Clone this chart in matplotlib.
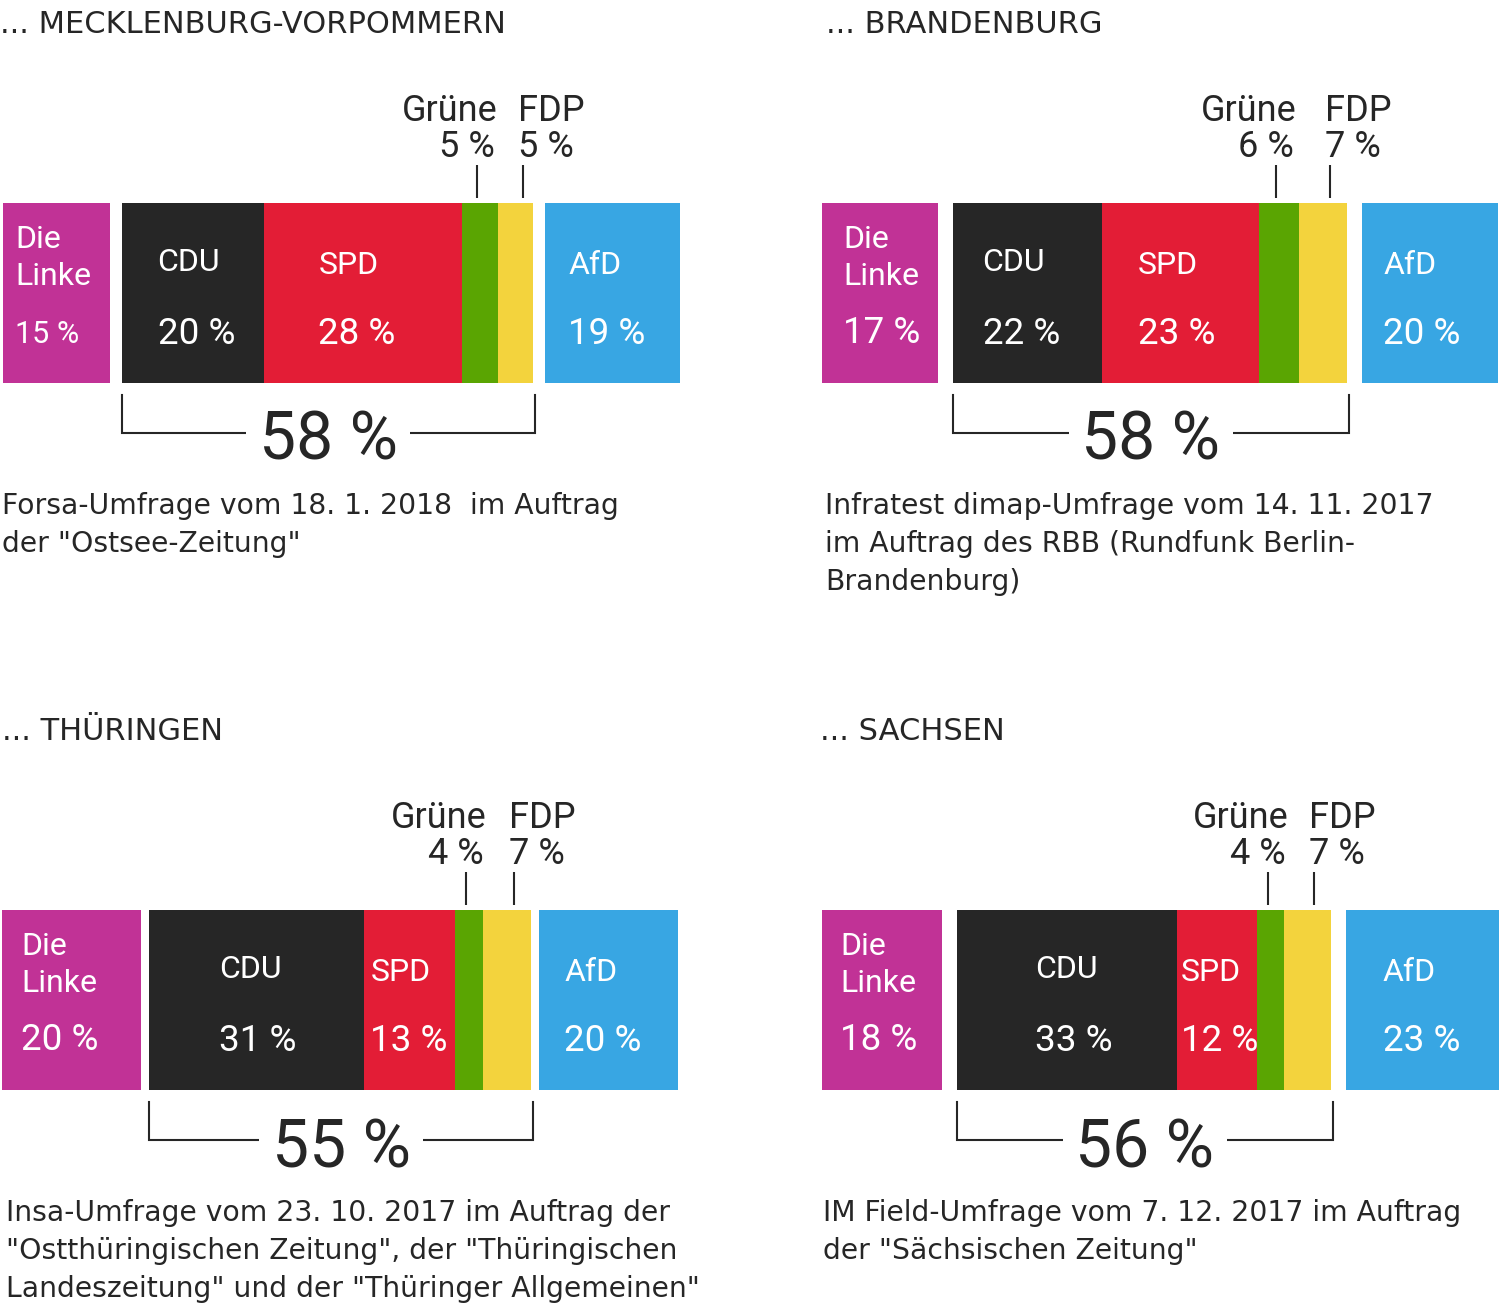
import matplotlib
matplotlib.use("Agg")
import matplotlib.pyplot as plt

plt.rcParams['font.family'] = ['Roboto', 'DejaVu Sans']

# ---------------- data ----------------
states = ["MECKLENBURG-VORPOMMERN", "BRANDENBURG", "THÜRINGEN", "SACHSEN"]
linke = [15, 17, 20, 18]
cdu = [20, 22, 31, 33]
spd = [28, 23, 13, 12]
gruene = [5, 6, 4, 4]
fdp = [5, 7, 7, 7]
afd = [19, 20, 20, 23]
sources = [
    'Forsa-Umfrage vom 18. 1. 2018  im Auftrag\nder "Ostsee-Zeitung"',
    'Infratest dimap-Umfrage vom 14. 11. 2017\nim Auftrag des RBB (Rundfunk Berlin-\nBrandenburg)',
    'Insa-Umfrage vom 23. 10. 2017 im Auftrag der\n"Ostthüringischen Zeitung", der "Thüringischen\nLandeszeitung" und der "Thüringer Allgemeinen"',
    'IM Field-Umfrage vom 7. 12. 2017 im Auftrag\nder "Sächsischen Zeitung"',
]

# ---------------- style / layout (pixels) ----------------
W, H = 1500, 1305
C_LINKE, C_CDU, C_SPD = "#C13296", "#262626", "#E31D36"
C_GRUENE, C_FDP, C_AFD = "#5AA502", "#F3D33D", "#38A6E3"
TXT = "#262626"
NOTE_FONT = ['DejaVu Sans']

panel_x0 = [3, 822, 2, 822]
panel_scale = [7.1, 6.8, 6.95, 6.67]
panel_bar_top = [203, 203, 910, 910]
panel_left = [0, 750, 0, 750]
panel_right = [750, 1500, 750, 1500]
gap_px = [12, 15, 8, 15]
title_x = [0, 826, 2, 820]
note_x = [2, 825, 6, 823]
off_linke = [12, 21, 19, 18]
off_cdu = [36, 30, 70, 78]
off_spd = [55, 36, 6, 4]
off_afd = [23, 21, 25, 37]
linke_pct_size = [22, 26.5, 26.5, 26.5]
BAR_H = 180

fig = plt.figure(figsize=(W / 100, H / 100), dpi=100)

for i in range(4):
    x0 = panel_x0[i]
    s = panel_scale[i]
    bt = panel_bar_top[i]
    L, R = panel_left[i], panel_right[i]
    T = bt - 203
    B = min(T + 650, H)
    ax = fig.add_axes([L / W, 1 - B / H, (R - L) / W, (B - T) / H])
    ax.set_xlim((L - x0) / s, (R - x0) / s)
    ax.set_ylim(B - bt, T - bt)
    ax.axis("off")

    g = gap_px[i] / s
    px = 1.0 / s  # one pixel in data units

    # bar segments
    x_linke = 0
    x_cdu = linke[i] + g
    x_spd = x_cdu + cdu[i]
    x_gr = x_spd + spd[i]
    x_fdp = x_gr + gruene[i]
    x_end = x_fdp + fdp[i]
    x_afd = x_end + g
    starts = [x_linke, x_cdu, x_spd, x_gr, x_fdp, x_afd]
    vals = [linke[i], cdu[i], spd[i], gruene[i], fdp[i], afd[i]]
    cols = [C_LINKE, C_CDU, C_SPD, C_GRUENE, C_FDP, C_AFD]
    ax.barh([BAR_H / 2] * 6, vals, left=starts, height=BAR_H, color=cols,
            linewidth=0)

    # labels inside bars (baseline positions)
    wt = dict(color="white", ha="left", va="baseline")
    ax.text(x_linke + off_linke[i] * px, 45, "Die", fontsize=23, **wt)
    ax.text(x_linke + off_linke[i] * px, 82, "Linke", fontsize=23, **wt)
    ax.text(x_linke + off_linke[i] * px, 140, f"{linke[i]} %",
            fontsize=linke_pct_size[i], **wt)
    ax.text(x_cdu + off_cdu[i] * px, 68, "CDU", fontsize=23, **wt)
    ax.text(x_cdu + off_cdu[i] * px, 141, f"{cdu[i]} %", fontsize=26.5, **wt)
    ax.text(x_spd + off_spd[i] * px, 71, "SPD", fontsize=23, **wt)
    ax.text(x_spd + off_spd[i] * px, 141, f"{spd[i]} %", fontsize=26.5, **wt)
    ax.text(x_afd + off_afd[i] * px, 71, "AfD", fontsize=23, **wt)
    ax.text(x_afd + off_afd[i] * px, 141, f"{afd[i]} %", fontsize=26.5, **wt)

    # Grüne / FDP labels above
    gt = x_gr + gruene[i] / 2 - 3 * px
    ft = x_fdp + fdp[i] / 2 + 7 * px
    for xc in (gt, ft):
        ax.plot([xc, xc], [-38, -5], color=TXT, lw=1.5, solid_capstyle="butt")
    lt = dict(fontsize=26, color=TXT, va="baseline")
    ax.text(gt + 21 * px, -82, "Grüne", ha="right", **lt)
    ax.text(gt + 18 * px, -46, f"{gruene[i]} %", ha="right", **lt)
    ax.text(ft - 5 * px, -82, "FDP", ha="left", **lt)
    ax.text(ft - 5 * px, -46, f"{fdp[i]} %", ha="left", **lt)

    # bracket with sum
    bl = x_cdu
    br = x_end + 2 * px
    yb0, yb1 = BAR_H + 12, BAR_H + 50
    ax.plot([bl, bl, br, br], [yb0, yb1, yb1, yb0], color=TXT, lw=1.5,
            solid_joinstyle="miter", zorder=1)
    total = cdu[i] + spd[i] + gruene[i] + fdp[i]
    ax.text((bl + br) / 2, 257, f"{total} %", fontsize=47.5, color=TXT,
            ha="center", va="baseline", zorder=3,
            bbox=dict(facecolor="white", edgecolor="none", pad=9))

    # title
    ax.text((title_x[i] - x0) * px, -170, "... " + states[i], fontsize=22,
            family=NOTE_FONT, color=TXT, ha="left", va="baseline")

    # source note
    for k, line in enumerate(sources[i].split("\n")):
        ax.text((note_x[i] - x0) * px, 311 + k * 37.8, line, family=NOTE_FONT,
                fontsize=20.3, color=TXT, ha="left", va="baseline")

fig.savefig("out.png", dpi=100, facecolor="white")
